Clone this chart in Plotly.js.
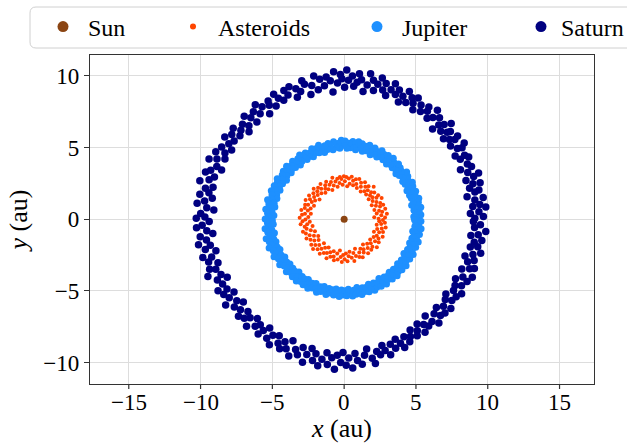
<!DOCTYPE html>
<html>
<head>
<meta charset="utf-8">
<script src="https://cdn.plot.ly/plotly-3.0.1.min.js"></script>
<style>html,body{margin:0;padding:0;background:#fff;}#chart{width:627px;height:443px;}</style>
</head>
<body>
<div id="chart"></div>
<script>
// ---- data: [angle in degrees, distance from the Sun in au] ----
const sunX = [0];
const sunY = [0];

const asteroidPoints = [
[0.7,2.4],[2.3,2.85],[3.5,2.1],[5.9,2.6],[7.2,3.0],[9.8,2.3],[11.0,2.7],[13.6,2.5],[14.1,2.95],[16.8,2.2],
[19.5,2.65],[20.3,2.9],[22.8,2.4],[24.0,2.75],[26.7,2.15],[28.1,2.55],[29.5,3.0],[32.4,2.35],[33.6,2.7],[35.2,2.9],
[37.8,2.5],[39.0,2.2],[41.5,2.8],[42.7,2.45],[44.9,2.65],[47.6,3.05],[48.3,2.3],[50.8,2.6],[53.4,2.85],[54.1,2.4],
[56.9,2.7],[59.2,2.25],[60.5,2.95],[62.8,2.55],[65.1,2.8],[67.9,2.35],[69.4,3.0],[71.0,2.6],[73.6,2.9],[75.3,2.45],
[77.0,2.75],[79.8,3.0],[81.2,2.5],[83.5,2.85],[84.7,2.3],[87.1,2.95],[88.9,2.65],[90.4,3.0],[92.6,2.4],[94.0,2.8],
[95.8,2.95],[97.3,2.55],[99.7,2.85],[101.4,2.3],[103.0,2.7],[105.9,3.0],[107.2,2.45],[109.5,2.75],[111.9,2.2],[113.1,2.6],
[115.6,2.9],[117.8,2.35],[119.2,2.7],[121.7,2.5],[123.9,2.95],[125.4,2.25],[127.0,2.65],[129.6,2.85],[131.3,2.4],[133.8,2.7],
[135.0,3.0],[137.5,2.5],[139.9,2.8],[141.2,2.2],[143.6,2.6],[146.0,2.95],[147.4,2.4],[149.9,2.75],[152.1,2.55],[153.5,3.0],
[156.0,2.3],[158.3,2.7],[159.6,2.9],[162.2,2.45],[164.0,2.85],[166.5,2.6],[168.0,3.05],[170.6,2.35],[172.3,2.75],[174.1,2.95],
[176.7,2.5],[178.2,3.1],[180.5,2.7],[182.9,2.9],[184.3,2.4],[186.6,3.05],[188.0,2.6],[190.8,2.8],[192.1,2.25],[194.5,2.7],
[196.9,3.0],[198.3,2.45],[200.7,2.85],[202.4,2.2],[205.0,2.65],[207.3,2.95],[208.8,2.4],[211.5,2.75],[213.0,2.15],[215.6,2.55],
[217.9,2.9],[219.4,2.3],[222.0,2.7],[223.8,3.0],[226.1,2.5],[228.6,2.8],[230.2,2.2],[232.7,2.6],[234.9,2.95],[236.5,2.4],
[239.0,2.75],[241.3,2.25],[243.1,2.65],[245.8,3.0],[247.4,2.5],[249.9,2.8],[252.0,2.35],[254.3,2.7],[256.0,2.95],[258.6,2.45],
[260.9,2.85],[262.3,2.2],[264.8,2.65],[266.9,3.0],[268.4,2.5],[270.7,2.8],[272.9,2.4],[274.5,2.95],[277.0,2.6],[279.3,2.3],
[281.1,2.75],[283.7,3.0],[285.2,2.45],[287.8,2.7],[290.1,2.2],[291.9,2.85],[294.4,2.55],[296.0,2.95],[298.7,2.35],[300.3,2.7],
[302.8,2.5],[305.1,2.9],[306.6,2.2],[309.2,2.6],[311.5,2.85],[313.0,2.35],[315.7,2.75],[317.9,2.5],[319.4,3.0],[322.0,2.3],
[324.3,2.65],[326.1,2.9],[328.8,2.4],[330.5,2.75],[333.0,2.55],[335.4,2.95],[337.1,2.25],[339.6,2.6],[341.8,2.85],[343.4,2.4],
[346.0,2.7],[348.5,2.95],[350.1,2.3],[352.7,2.6],[354.9,2.85],[356.4,2.45],[358.8,2.7]
];

const jupiterPoints = [
[0.5,5.1],[1.9,4.85],[3.2,5.35],[4.4,5.0],[6.1,5.25],[7.3,4.9],[8.8,5.4],[10.0,5.05],[11.6,4.8],[12.9,5.3],
[14.5,5.0],[15.7,5.4],[17.2,4.9],[18.6,5.2],[20.1,4.85],[21.4,5.35],[22.9,5.05],[24.3,4.8],[25.6,5.3],[27.2,5.0],
[28.5,5.4],[29.9,4.9],[31.4,5.2],[32.8,4.85],[34.1,5.35],[35.7,5.05],[37.0,5.45],[38.4,4.9],[39.9,5.2],[41.3,4.8],
[42.6,5.3],[44.2,5.0],[45.5,5.4],[46.9,4.9],[48.4,5.25],[49.7,5.0],[51.1,5.45],[52.6,4.85],[54.0,5.2],[55.3,5.4],
[56.9,4.95],[58.2,5.3],[59.6,5.05],[61.1,5.45],[62.4,4.9],[63.9,5.25],[65.3,5.0],[66.6,5.4],[68.1,4.85],[69.5,5.2],
[70.9,5.45],[72.3,5.0],[73.7,5.3],[75.1,4.9],[76.5,5.4],[77.9,5.1],[79.4,5.5],[80.7,4.9],[82.2,5.25],[83.6,5.45],
[85.0,5.0],[86.4,5.3],[87.8,4.95],[89.3,5.45],[90.6,5.15],[92.1,5.5],[93.5,4.95],[94.9,5.3],[96.3,5.05],[97.8,5.45],
[99.1,4.9],[100.6,5.25],[102.0,5.4],[103.4,5.0],[104.8,5.3],[106.3,4.85],[107.6,5.2],[109.1,5.45],[110.5,4.95],[111.9,5.3],
[113.3,5.05],[114.7,5.4],[116.2,4.85],[117.5,5.2],[119.0,5.0],[120.4,5.35],[121.8,4.9],[123.2,5.25],[124.7,5.45],[126.0,5.0],
[127.5,5.3],[128.9,4.85],[130.3,5.2],[131.7,5.4],[133.2,4.95],[134.5,5.25],[136.0,5.05],[137.4,5.45],[138.8,4.9],[140.2,5.2],
[141.7,5.4],[143.0,5.0],[144.5,5.3],[145.9,4.85],[147.3,5.15],[148.8,5.45],[150.1,4.95],[151.6,5.3],[153.0,5.05],[154.4,5.4],
[155.8,4.9],[157.3,5.2],[158.6,5.45],[160.1,5.0],[161.5,5.3],[162.9,4.9],[164.3,5.25],[165.8,5.5],[167.1,5.0],[168.6,5.35],
[170.0,4.9],[171.4,5.2],[172.8,5.5],[174.3,5.05],[175.6,5.35],[177.1,4.9],[178.5,5.25],[179.9,5.5],[181.3,5.0],[182.8,5.35],
[184.1,4.95],[185.6,5.3],[187.0,5.55],[188.4,5.1],[189.8,5.4],[191.3,4.95],[192.6,5.3],[194.1,5.6],[195.5,5.1],[196.9,5.45],
[198.3,5.0],[199.8,5.35],[201.1,5.6],[202.6,5.05],[204.0,5.4],[205.4,4.95],[206.8,5.3],[208.3,5.55],[209.6,5.05],[211.1,5.35],
[212.5,4.9],[213.9,5.25],[215.3,5.5],[216.8,5.0],[218.1,5.3],[219.6,4.9],[221.0,5.2],[222.4,5.45],[223.8,4.95],[225.3,5.25],
[226.6,5.0],[228.1,5.4],[229.5,4.85],[230.9,5.2],[232.3,5.45],[233.8,4.95],[235.1,5.3],[236.6,5.0],[238.0,5.4],[239.4,4.9],
[240.8,5.2],[242.3,5.45],[243.6,5.0],[245.1,5.3],[246.5,4.9],[247.9,5.25],[249.3,5.45],[250.8,5.0],[252.1,5.3],[253.6,4.9],
[255.0,5.2],[256.4,5.4],[257.8,4.95],[259.3,5.25],[260.6,5.0],[262.1,5.35],[263.5,4.9],[264.9,5.2],[266.3,5.4],[267.8,4.95],
[269.1,5.3],[270.6,5.0],[272.0,5.35],[273.4,4.9],[274.8,5.2],[276.3,5.4],[277.6,5.0],[279.1,5.3],[280.5,4.85],[281.9,5.2],
[283.3,5.4],[284.8,4.95],[286.1,5.25],[287.6,5.0],[289.0,5.35],[290.4,4.85],[291.8,5.15],[293.3,5.4],[294.6,4.9],[296.1,5.25],
[297.5,5.0],[298.9,5.35],[300.3,4.8],[301.8,5.15],[303.1,5.4],[304.6,4.9],[306.0,5.2],[307.4,5.0],[308.8,5.35],[310.3,4.85],
[311.6,5.15],[313.1,5.4],[314.5,4.9],[315.9,5.25],[317.3,5.0],[318.8,5.35],[320.1,4.85],[321.6,5.15],[323.0,5.4],[324.4,4.9],
[325.8,5.2],[327.3,5.0],[328.6,5.35],[330.1,4.8],[331.5,5.1],[332.9,5.4],[334.3,4.9],[335.8,5.2],[337.1,5.0],[338.6,5.35],
[340.0,4.85],[341.4,5.15],[342.8,5.4],[344.3,4.9],[345.6,5.2],[347.1,5.0],[348.5,5.35],[349.9,4.85],[351.3,5.15],[352.8,5.4],
[354.1,4.95],[355.6,5.2],[357.0,5.0],[358.4,5.35],[359.5,4.9]
];

const saturnPoints = [
[0.4,9.1],[1.1,9.7],[2.6,8.8],[3.1,9.4],[4.9,9.9],[5.6,9.0],[6.2,9.5],[8.4,9.2],[8.9,9.8],[10.3,8.7],
[11.8,9.3],[12.2,9.6],[13.9,9.0],[15.0,9.8],[15.4,9.3],[17.6,8.9],[18.3,9.5],[19.0,9.9],[20.7,9.2],[22.5,9.6],
[23.0,8.8],[24.1,9.4],[26.6,9.7],[27.3,9.1],[28.0,9.5],[29.7,8.9],
[31.2,9.6],[32.0,9.3],[32.4,9.9],[34.6,9.0],[35.8,9.5],[36.3,9.8],[37.1,9.2],[39.0,8.9],[39.6,9.6],[40.2,9.4],
[41.8,10.0],[42.3,9.1],[43.5,9.6],[44.9,9.3],[45.6,8.8],[46.8,9.7],[48.9,9.4],[49.5,10.0],[50.6,9.1],[52.4,9.5],
[53.0,9.8],[54.7,9.2],[56.1,9.6],[57.9,9.0],[58.6,9.9],[59.3,9.4],
[60.8,9.7],[62.2,9.2],[63.0,10.0],[64.5,9.5],[65.2,9.0],[66.9,9.8],[67.7,9.4],[69.3,10.1],[70.1,9.6],[71.5,9.1],
[72.8,9.9],[73.4,9.4],[74.9,10.2],[76.0,9.7],[77.2,9.2],[78.1,9.9],[79.7,10.3],[80.3,9.5],[81.6,9.0],[82.9,9.8],
[84.0,10.2],[84.6,9.6],[85.9,9.3],[86.7,10.0],[88.2,9.7],[89.0,10.4],[89.8,9.2],
[90.9,9.8],[91.5,10.1],[92.8,9.5],[94.1,10.3],[95.0,8.9],[95.7,9.7],[97.2,10.0],[98.4,9.4],[99.9,9.9],[101.3,9.2],
[102.0,10.2],[103.6,9.6],[104.9,9.0],[106.4,9.8],[107.0,10.1],[108.8,9.4],[110.3,9.7],[111.0,9.1],[112.6,10.0],[114.3,9.5],
[115.1,9.9],[116.9,9.3],[118.5,9.6],[119.4,10.0],
[121.0,9.2],[122.7,9.8],[123.3,9.5],[125.2,9.0],[126.1,9.7],[127.8,10.1],[128.5,9.4],[130.2,9.8],[131.9,9.1],[132.6,9.6],
[134.1,10.0],[135.5,9.3],[136.9,9.7],[137.4,9.0],[139.2,9.5],[140.6,10.0],[141.3,9.3],[143.0,9.8],[144.6,9.4],[145.4,10.1],
[146.8,9.6],[148.4,9.2],[149.5,9.9],
[150.9,9.5],[152.3,10.1],[153.2,9.3],[154.7,9.8],[156.0,10.3],[157.5,9.6],[158.1,9.2],[159.9,9.9],[161.2,10.2],[162.0,9.5],
[163.7,9.8],[165.1,10.4],[166.3,9.4],[167.4,9.9],[168.9,9.6],[170.2,10.2],[171.0,9.3],[172.6,9.8],[173.8,10.3],[175.3,9.6],
[176.0,9.1],[177.7,10.0],[179.1,9.7],[179.7,10.3],
[181.0,9.4],[182.5,9.9],[183.3,10.3],[184.8,9.6],[186.2,9.2],[187.0,10.1],[188.6,9.7],[190.0,10.3],[191.1,9.5],[192.4,9.9],
[193.9,9.2],[195.2,10.2],[196.0,9.6],[197.6,9.9],[199.1,9.3],[200.5,10.0],[201.4,9.6],[202.9,10.3],[204.2,9.4],[205.7,9.8],
[206.5,9.1],[208.1,9.6],[209.6,10.1],
[210.8,9.5],[212.1,9.9],[213.5,9.2],[214.4,9.7],[216.0,10.2],[217.3,9.4],[218.7,9.8],[219.5,9.1],[221.2,9.6],[222.6,10.0],
[223.9,9.3],[224.8,9.8],[226.4,9.5],[227.7,10.1],[228.9,9.2],[230.3,9.7],[231.6,9.4],[233.2,10.0],[234.1,9.6],[235.7,9.2],
[237.0,9.9],[238.5,9.5],[239.3,10.2],
[240.9,9.3],[242.0,9.8],[243.6,10.1],[244.3,9.5],[245.9,9.9],[247.2,9.2],[248.0,10.3],[249.6,9.7],[251.0,10.0],[252.3,9.4],
[253.8,10.4],[254.6,9.8],[256.1,9.3],[257.4,10.1],[258.2,9.6],[259.8,10.4],[261.0,9.9],[262.7,9.4],[263.4,10.2],[264.9,9.7],
[266.3,10.5],[267.1,9.5],[268.6,10.0],[269.5,9.3],
[270.8,10.2],[271.9,9.7],[273.3,10.4],[274.6,9.4],[275.4,9.9],[277.1,10.2],[278.5,9.6],[279.8,9.2],[281.4,9.9],[282.2,10.3],
[283.8,9.5],[285.0,9.8],[286.6,9.2],[287.3,9.6],[288.9,10.0],[290.2,9.3],[291.7,9.7],[293.0,9.1],[294.4,9.5],[295.2,9.9],
[296.9,9.2],[298.1,9.7],[299.4,9.4],
[300.7,9.0],[302.0,9.6],[303.2,9.3],[304.8,8.9],[305.5,9.7],[307.0,9.2],[308.3,9.5],[309.9,8.8],[310.6,9.4],[312.3,9.8],
[313.5,9.1],[314.9,9.5],[316.2,8.9],[317.0,9.6],[318.7,9.2],[320.0,9.7],[321.5,9.0],[322.9,9.4],[323.6,8.8],[325.2,9.5],
[326.8,9.1],[327.5,9.7],[329.1,9.0],
[330.4,9.4],[331.8,8.8],[333.1,9.6],[334.0,9.2],[335.6,9.8],[337.0,8.9],[338.4,9.4],[339.2,9.7],[340.9,9.1],[342.3,9.5],
[343.0,8.8],[344.6,9.3],[346.0,9.8],[347.5,9.0],[348.3,9.5],[349.9,9.2],[351.2,9.7],[352.6,8.9],[353.4,9.4],[355.0,9.9],
[356.3,9.1],[357.6,9.5],[358.9,9.0]
];

const xTicks = [-15, -10, -5, 0, 5, 10, 15];
const yTicks = [-10, -5, 0, 5, 10];
const seriesNames = ['Sun', 'Asteroids', 'Jupiter', 'Saturn'];
const seriesColors = ['#8B4513', '#FF4500', '#1E90FF', '#000080'];

// polar readings -> cartesian data values
function toXY(points) {
  const xs = [], ys = [];
  points.forEach(p => {
    const a = p[0] * Math.PI / 180;
    xs.push(p[1] * Math.cos(a));
    ys.push(p[1] * Math.sin(a));
  });
  return [xs, ys];
}
const [astX, astY] = toXY(asteroidPoints);
const [jupX, jupY] = toXY(jupiterPoints);
const [satX, satY] = toXY(saturnPoints);

const plotSizes = [7, 4, 7, 7.5];     // marker sizes in the plot
const legendSizes = [11, 6, 11, 11];  // larger markers in the legend
const legendIds = ['legend', 'legend2', 'legend3', 'legend4'];
const seriesX = [sunX, astX, jupX, satX];
const seriesY = [sunY, astY, jupY, satY];

const traces = [];
seriesNames.forEach((n, i) => {
  traces.push({x: seriesX[i], y: seriesY[i], name: n, mode: 'markers', type: 'scatter', showlegend: false,
               marker: {color: seriesColors[i], size: plotSizes[i]}});
});
// legend entries (no data drawn)
seriesNames.forEach((n, i) => {
  traces.push({x: [null], y: [null], name: n, legend: legendIds[i], mode: 'markers', type: 'scatter',
               marker: {color: seriesColors[i], size: legendSizes[i]}});
});

const FONT = 'Liberation Serif, Times New Roman, serif';
const W = 627, H = 443;
const M = {l: 90, r: 33, t: 55, b: 59};
const pw = W - M.l - M.r, ph = H - M.t - M.b;
const px = v => (v - M.l) / pw;           // pixel -> paper x
const py = v => (H - M.b - v) / ph;       // pixel -> paper y
const fmt = v => v < 0 ? '\u2212' + Math.abs(v) : String(v);

function legendAt(xpix, iw) {
  return {x: px(xpix), y: py(27), xanchor: 'left', yanchor: 'middle', orientation: 'h',
          itemwidth: iw,
          bgcolor: 'rgba(0,0,0,0)', borderwidth: 0,
          font: {family: FONT, size: 24, color: '#000'}};
}

// rounded legend frame
const fx0 = px(30), fx1 = px(660), fy0 = py(48), fy1 = py(7);
const rx = 6 / pw, ry = 6 / ph;
const framePath = `M ${fx0 + rx} ${fy0} L ${fx1 - rx} ${fy0} Q ${fx1} ${fy0} ${fx1} ${fy0 + ry} L ${fx1} ${fy1 - ry} Q ${fx1} ${fy1} ${fx1 - rx} ${fy1} L ${fx0 + rx} ${fy1} Q ${fx0} ${fy1} ${fx0} ${fy1 - ry} L ${fx0} ${fy0 + ry} Q ${fx0} ${fy0} ${fx0 + rx} ${fy0} Z`;

const shapes = [{type: 'path', xref: 'paper', yref: 'paper', path: framePath,
                 line: {color: '#d0d0d0', width: 1}, fillcolor: '#ffffff', layer: 'above'}];
// outside tick marks on the x axis, at the axis' own tick values
xTicks.forEach(v => {
  shapes.push({type: 'line', xref: 'x', yref: 'paper', x0: v, x1: v, y0: 0, y1: -5 / ph,
               line: {color: '#333333', width: 1.2}, layer: 'above'});
});
// x tick labels, placed through the x scale
const annotations = xTicks.map(v => ({
  x: v, xref: 'x', y: 0, yref: 'paper', yanchor: 'middle', xanchor: 'center', yshift: -18,
  text: fmt(v), showarrow: false, font: {family: FONT, size: 23, color: '#000'}
}));

const axisCommon = {
  showgrid: true, gridcolor: '#dddddd', gridwidth: 1, zeroline: false,
  showline: true, mirror: true, linecolor: '#333333', linewidth: 1.2,
  tickfont: {family: FONT, size: 23, color: '#000'}
};

const layout = {
  width: W, height: H,
  margin: {l: M.l, r: M.r, t: M.t, b: M.b, pad: 0, autoexpand: false},
  paper_bgcolor: '#ffffff', plot_bgcolor: '#ffffff',
  font: {family: FONT, size: 22, color: '#000'},
  showlegend: true,
  xaxis: Object.assign({}, axisCommon, {
    range: [-17.7, 17.4], tickvals: xTicks, ticktext: xTicks.map(fmt), ticks: '', showticklabels: false,
    title: {text: '<i>x</i> (au)', font: {family: FONT, size: 26}, standoff: 40}
  }),
  yaxis: Object.assign({}, axisCommon, {
    range: [-11.5, 11.45], tickvals: yTicks, ticktext: yTicks.map(fmt),
    ticks: 'outside', ticklen: 5, tickwidth: 1.2, tickcolor: '#333333',
    title: {text: '<i>y</i> (au)', font: {family: FONT, size: 26}, standoff: 8}
  }),
  legend: legendAt(38, 40),
  legend2: legendAt(168, 40),
  legend3: legendAt(352, 40),
  legend4: legendAt(521, 30),
  shapes: shapes,
  annotations: annotations
};

Plotly.newPlot('chart', traces, layout, {staticPlot: true, displayModeBar: false});
</script>
</body>
</html>
